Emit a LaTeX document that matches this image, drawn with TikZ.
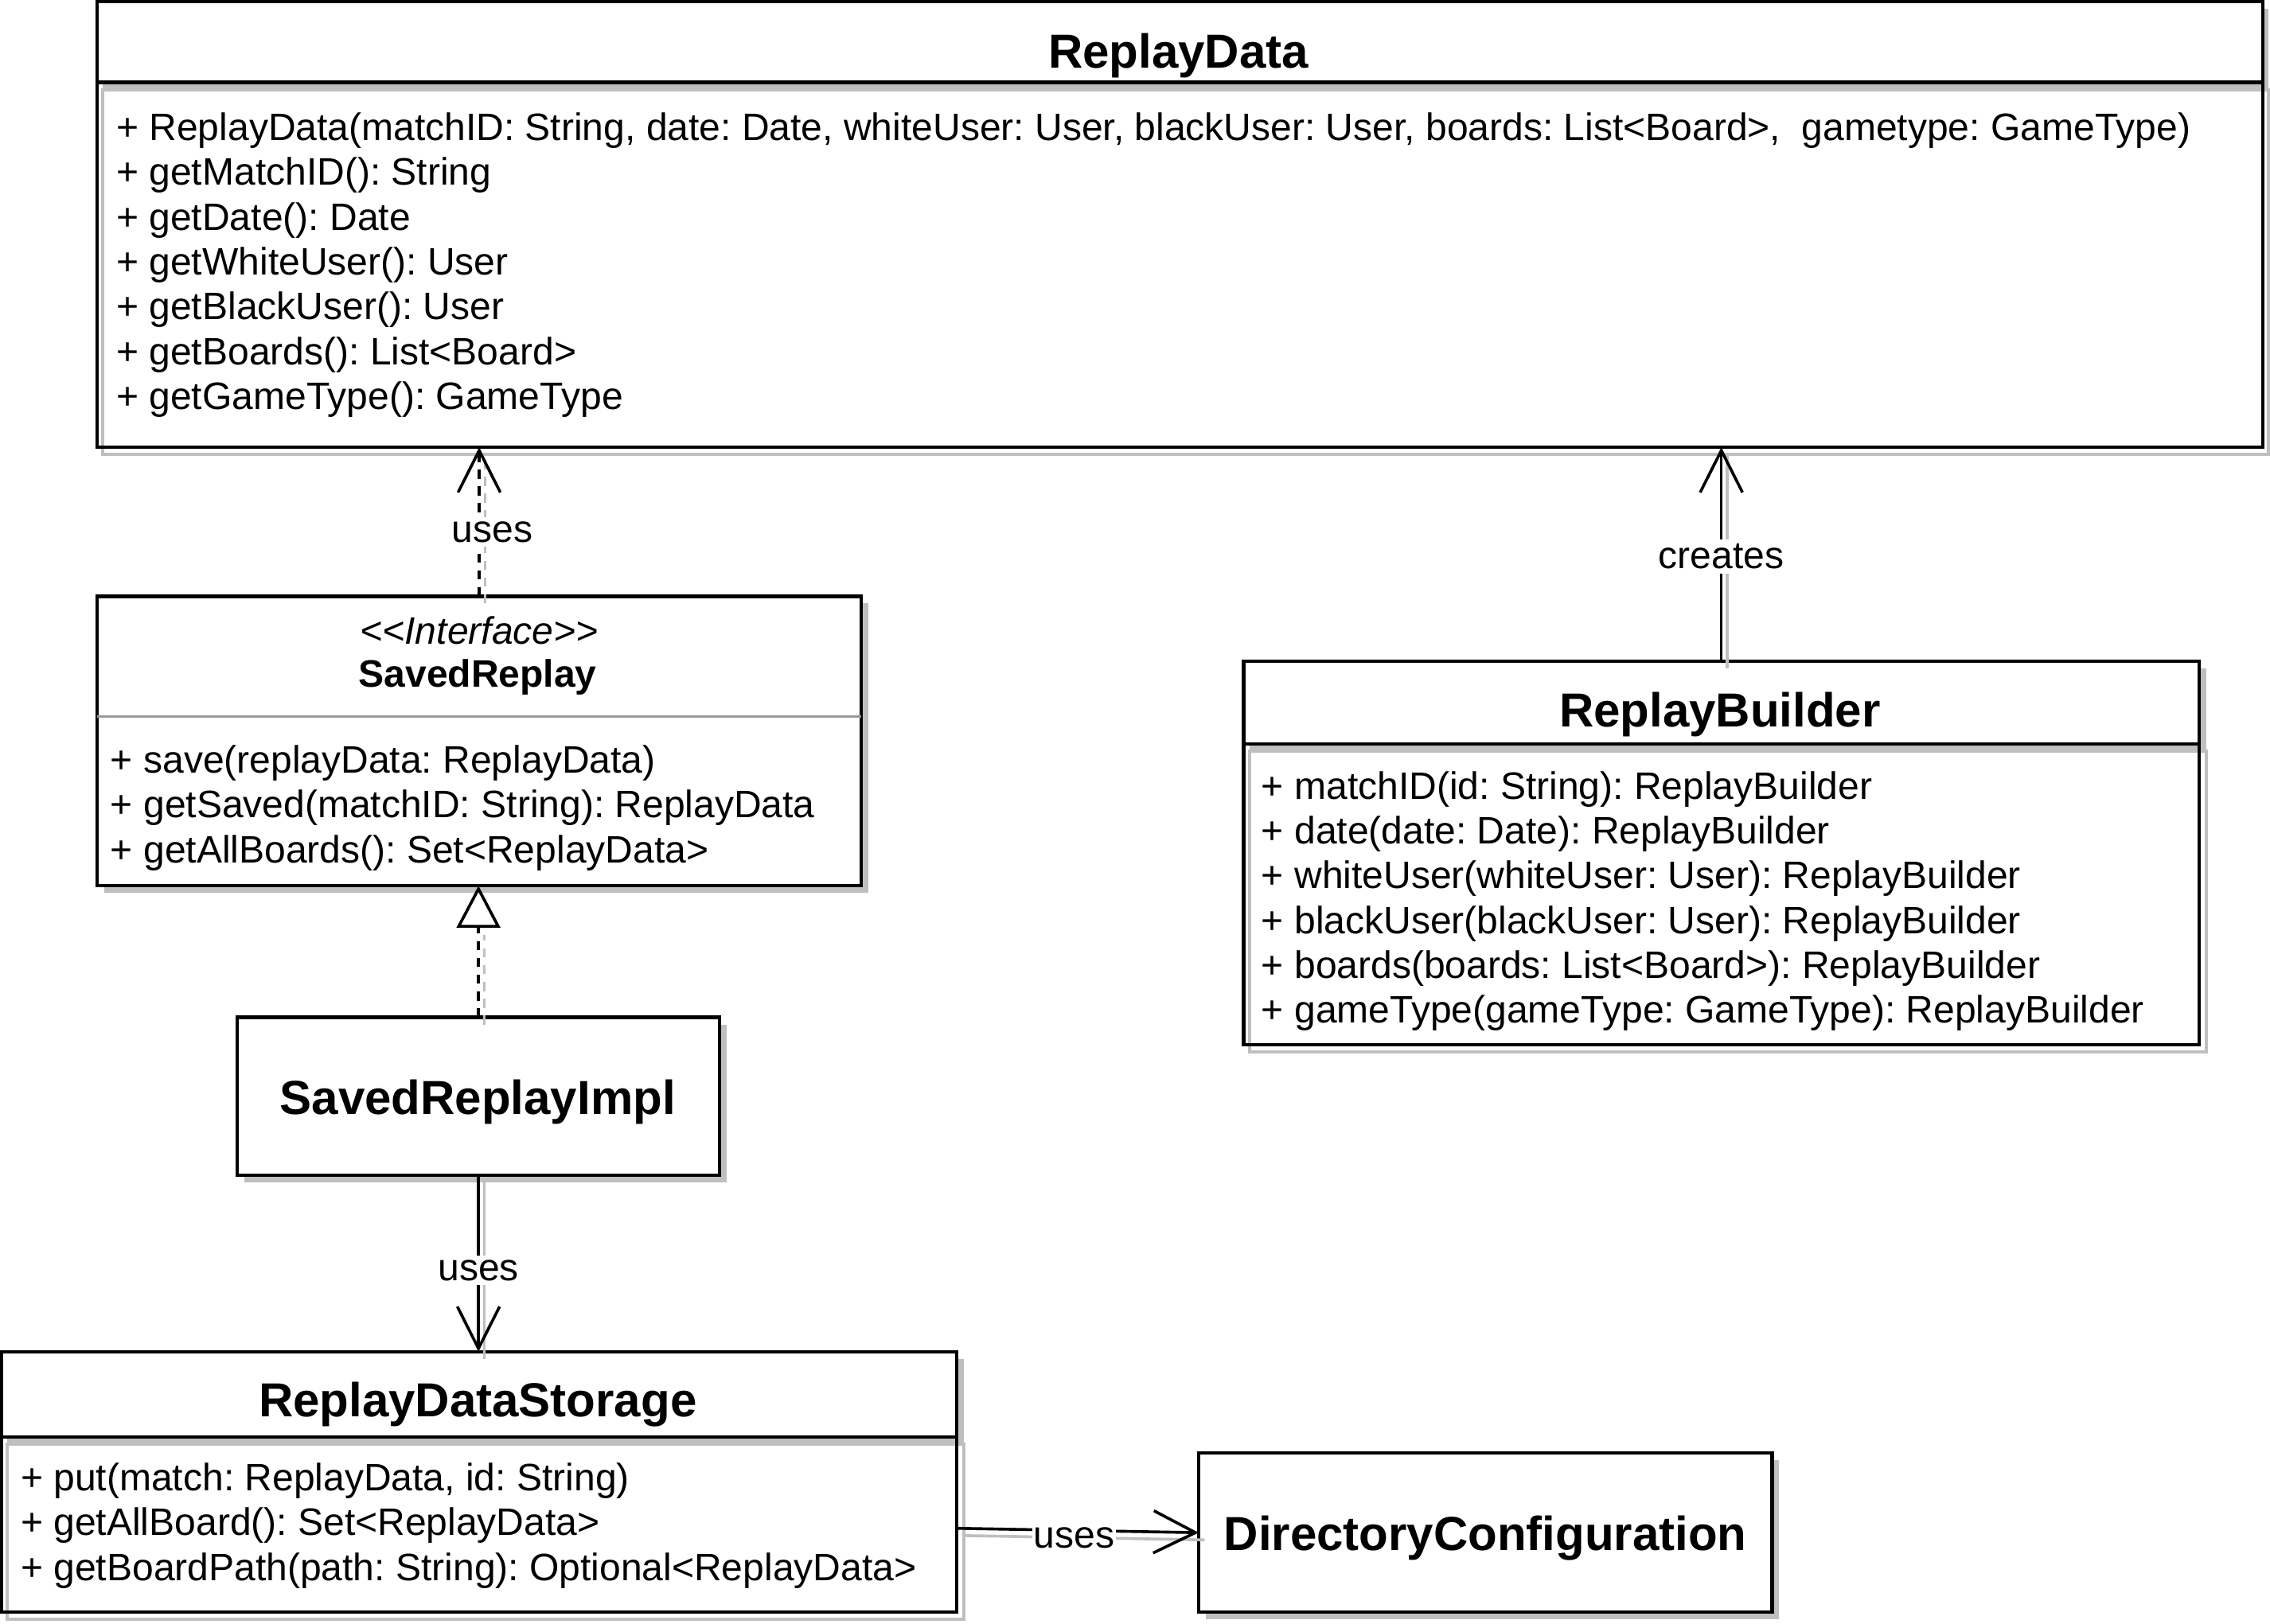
\documentclass[tikz,border=0pt]{standalone}
\usepackage{fontspec}
\setmainfont{Liberation Sans}
\usetikzlibrary{arrows.meta,fit}
\definecolor{shd}{HTML}{BFBFBF}
\newcommand\rowfnt{\fontsize{13.2pt}{15.5pt}\selectfont\frenchspacing}
\newcommand\ttlfnt{\fontsize{16.5pt}{20pt}\selectfont\bfseries\frenchspacing}
\begin{document}
\begin{tikzpicture}[x=0.5pt,y=-0.5pt,
  box/.style={draw=black, line width=1.2pt, inner sep=0pt, outer sep=0pt, rectangle},
  sepline/.style={draw=black, line width=1.2pt},
  shadowfill/.style={fill=shd},
  shadowline/.style={draw=shd, line width=1.1pt},
  row/.style={anchor=base west, inner sep=0pt, font=\rowfnt},
  ttl/.style={anchor=base, inner sep=0pt, font=\ttlfnt},
  lbl/.style={fill=white, inner sep=1.5pt, font=\rowfnt},
  conn/.style={line width=1pt},
  dep/.style={conn, dash pattern=on 3.2pt off 2.6pt},
  openhead/.style={-{Straight Barb[length=14.5pt,width=14.6pt]}},
  realize/.style={-{Triangle[open,length=14.5pt,width=15pt,fill=white]}},
  shadowconn/.style={draw=shd, transform canvas={xshift=2pt,yshift=-2.5pt}}
]
\useasboundingbox (0,0) rectangle (1568,1122);
\fill[white] (0,0) rectangle (1568,1122);

% ---------- ReplayData ----------
\fill[shadowfill] (71,6) rectangle (1567,62);
\fill[white] (67,1) rectangle (1563,57);
\draw[shadowline] (71,62) rectangle (1567,314);
\node[box, fit={(67,1)(1563,309)}] (rd) {};
\draw[sepline] (67,57) -- (1563,57);
\node[ttl] (rdt) at (814,47) {ReplayData};
\node[row] (rd1) at (80,97) {+ ReplayData(matchID: String, date: Date, whiteUser: User, blackUser: User, boards: List<Board>,\ \ gametype: GameType)};
\node[row] (rd2) at (80,128) {+ getMatchID(): String};
\node[row] (rd3) at (80,159) {+ getDate(): Date};
\node[row] (rd4) at (80,190) {+ getWhiteUser(): User};
\node[row] (rd5) at (80,221) {+ getBlackUser(): User};
\node[row] (rd6) at (80,252) {+ getBoards(): List<Board>};
\node[row] (rd7) at (80,283) {+ getGameType(): GameType};

% ---------- SavedReplay ----------
\fill[shadowfill] (72,417) rectangle (600,617);
\node[box, fill=white, fit={(67,412)(595,612)}] (sr) {};
\draw[black!40, line width=0.8pt] (67,495) -- (595,495);
\node[anchor=base, inner sep=0pt, font=\rowfnt\itshape] (srs) at (331,445) {<{}<Interface>{}>};
\node[anchor=base, inner sep=0pt, font=\rowfnt\bfseries] (srt) at (330,475) {SavedReplay};
\node[row] (sr1) at (76,534) {+ save(replayData: ReplayData)};
\node[row] (sr2) at (76,565) {+ getSaved(matchID: String): ReplayData};
\node[row] (sr3) at (76,596) {+ getAllBoards(): Set<ReplayData>};

% ---------- SavedReplayImpl ----------
\fill[shadowfill] (169,708) rectangle (502,817);
\node[box, fill=white, fit={(164,703)(497,812)}] (sri) {};
\node[ttl] (srit) at (330,770) {SavedReplayImpl};

% ---------- ReplayBuilder ----------
\fill[shadowfill] (863,462) rectangle (1524,519);
\fill[white] (859,457) rectangle (1519,514);
\draw[shadowline] (863,519) rectangle (1524,727);
\node[box, fit={(859,457)(1519,722)}] (rb) {};
\draw[sepline] (859,514) -- (1519,514);
\node[ttl] (rbt) at (1188,502) {ReplayBuilder};
\node[row] (rb1) at (871,552) {+ matchID(id: String): ReplayBuilder};
\node[row] (rb2) at (871,583) {+ date(date: Date): ReplayBuilder};
\node[row] (rb3) at (871,614) {+ whiteUser(whiteUser: User): ReplayBuilder};
\node[row] (rb4) at (871,645) {+ blackUser(blackUser: User): ReplayBuilder};
\node[row] (rb5) at (871,676) {+ boards(boards: List<Board>): ReplayBuilder};
\node[row] (rb6) at (871,707) {+ gameType(gameType: GameType): ReplayBuilder};

% ---------- ReplayDataStorage ----------
\fill[shadowfill] (5,939) rectangle (666,998);
\fill[white] (1,934) rectangle (661,993);
\draw[shadowline] (5,998) rectangle (666,1119);
\node[box, fit={(1,934)(661,1114)}] (st) {};
\draw[sepline] (1,993) -- (661,993);
\node[ttl] (stt) at (330,979) {ReplayDataStorage};
\node[row] (st1) at (14,1030) {+ put(match: ReplayData, id: String)};
\node[row] (st2) at (14,1061) {+ getAllBoard(): Set<ReplayData>};
\node[row] (st3) at (14,1092) {+ getBoardPath(path: String): Optional<ReplayData>};

% ---------- DirectoryConfiguration ----------
\fill[shadowfill] (833,1009) rectangle (1229,1119);
\node[box, fill=white, fit={(828,1004)(1224,1114)}] (dc) {};
\node[ttl] (dct) at (1026,1071) {DirectoryConfiguration};

% ---------- connector shadows (lines only) ----------
\draw[dep, shadowconn] (sr.north) -- (sr.north |- rd.south);
\draw[dep, shadowconn, shorten >=14.5pt] (sri.north) -- (sri.north |- sr.south);
\draw[conn, shadowconn] (sri.south) -- (sri.south |- st.north);
\draw[conn, shadowconn] (rb.north) -- (rb.north |- rd.south);
\draw[conn, shadowconn] ([yshift=-16pt]st.east) -- (dc.west);

% ---------- connectors ----------
\draw[dep, openhead] (sr.north) -- (sr.north |- rd.south);
\draw[dep, realize] (sri.north) -- (sri.north |- sr.south);
\draw[conn, openhead] (sri.south) -- (sri.south |- st.north);
\draw[conn, openhead] (rb.north) -- (rb.north |- rd.south);
\draw[conn, openhead] ([yshift=-16pt]st.east) -- (dc.west);

% ---------- connector labels ----------
\path (sr.north) -- node[lbl, pos=0.43, xshift=4.5pt] (l1) {uses} (sr.north |- rd.south);
\path (sri.south) -- node[lbl, pos=0.54] (l2) {uses} (sri.south |- st.north);
\path (rb.north) -- node[lbl, pos=0.49] (l3) {creates} (rb.north |- rd.south);
\path ([yshift=-16pt]st.east) -- node[lbl, pos=0.485, inner sep=0.5pt, yshift=-2.5pt] (l4) {uses} (dc.west);
\end{tikzpicture}
\end{document}
